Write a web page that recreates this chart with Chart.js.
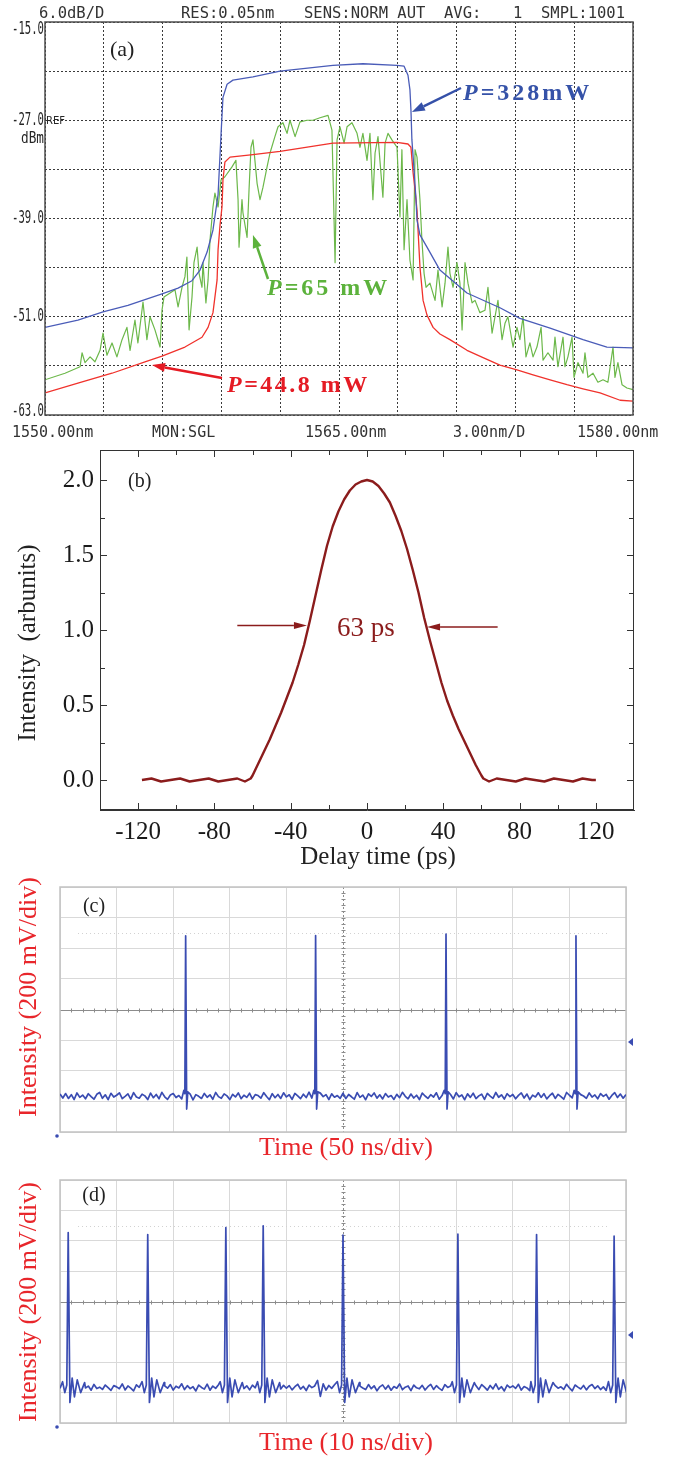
<!DOCTYPE html>
<html>
<head>
<meta charset="utf-8">
<script src="https://cdn.jsdelivr.net/npm/chart.js@4.4.1/dist/chart.umd.min.js"></script>
<style>
html,body{margin:0;padding:0;background:#fff;}
body{position:relative;width:674px;height:1457px;overflow:hidden;}
canvas{position:absolute;left:0;}
</style>
</head>
<body>
<canvas id="cA" width="674" height="445" style="top:0px"></canvas>
<canvas id="cB" width="674" height="425" style="top:445px"></canvas>
<canvas id="cC" width="674" height="300" style="top:870px"></canvas>
<canvas id="cD" width="674" height="287" style="top:1170px"></canvas>
<script>
// ================= DATA =================
// (a) optical spectra (wavelength nm, power dBm)
const wlBlue = [1550.00,1551.68,1552.96,1554.23,1555.97,1556.79,1557.50,1557.91,1558.27,1558.57,1558.83,1558.98,1559.08,1559.29,1559.59,1560.61,1561.99,1564.69,1566.22,1567.96,1568.32,1568.52,1568.62,1568.67,1568.72,1568.83,1568.93,1568.98,1569.13,1569.49,1570.15,1571.53,1573.21,1574.23,1575.77,1577.45,1578.67,1580.00];
const pBlue = [-52.3,-51.4,-50.4,-49.6,-48.2,-47.5,-46.6,-45.3,-43.1,-40.4,-36.1,-28.8,-24.2,-22.6,-22.1,-21.7,-21.0,-20.3,-20.1,-20.3,-20.4,-21.5,-23.3,-25.7,-29.4,-33.1,-36.7,-39.2,-41.0,-42.5,-45.3,-48.1,-49.9,-51.2,-52.4,-53.8,-54.7,-54.8];

const wlRed = [1550.00,1551.68,1553.42,1555.10,1555.97,1557.14,1558.01,1558.32,1558.57,1558.78,1558.83,1558.93,1559.03,1559.08,1559.18,1559.44,1560.61,1561.99,1564.69,1567.96,1568.52,1568.67,1568.78,1568.88,1568.98,1569.13,1569.29,1569.49,1569.80,1570.15,1570.66,1571.53,1572.35,1573.21,1574.08,1574.90,1575.77,1576.63,1577.45,1578.32,1579.34,1580.00];
const pRed = [-60.3,-59.1,-57.9,-56.5,-55.8,-54.7,-53.5,-52.3,-50.5,-46.5,-42.8,-39.8,-37.6,-34.3,-32.1,-31.5,-31.2,-30.8,-29.8,-29.7,-29.9,-30.3,-33.4,-35.5,-38.0,-44.9,-49.0,-50.8,-52.3,-53.1,-53.8,-55.1,-56.0,-56.9,-57.5,-58.1,-58.7,-59.3,-59.8,-60.3,-61.2,-61.3];

const wlGreen = [
1550.00,1551.02,1551.79,1551.89,1552.04,1552.30,1552.55,1552.81,1552.96,1553.16,
1553.42,1553.67,1553.93,1554.18,1554.34,1554.59,1554.74,1555.00,1555.20,1555.36,
1555.61,1555.87,1555.97,1556.07,1556.38,1556.63,1556.79,1556.99,1557.14,1557.24,
1557.35,1557.50,1557.60,1557.76,1557.86,1558.01,1558.06,1558.21,1558.32,1558.42,
1558.57,1558.67,1558.83,1558.98,1559.18,1559.54,1559.74,1559.85,1559.90,1560.05,
1560.10,1560.31,1560.41,1560.51,1560.61,1560.71,1560.82,1560.97,1561.12,1561.33,
1561.48,1561.73,1561.89,1562.14,1562.35,1562.50,1562.76,1563.01,1563.37,1563.67,
1564.03,1564.44,1564.64,1564.80,1564.90,1565.05,1565.26,1565.41,1565.66,1565.92,
1566.07,1566.22,1566.43,1566.58,1566.73,1566.84,1566.99,1567.24,1567.35,1567.50,
1567.70,1567.96,1568.11,1568.21,1568.32,1568.47,1568.62,1568.78,1568.88,1568.98,
1569.13,1569.23,1569.34,1569.44,1569.64,1569.90,1570.05,1570.26,1570.41,1570.56,
1570.66,1570.82,1571.02,1571.17,1571.28,1571.43,1571.58,1571.79,1571.94,1572.19,
1572.45,1572.60,1572.81,1572.96,1573.11,1573.32,1573.47,1573.62,1573.88,1574.08,
1574.23,1574.39,1574.54,1574.74,1574.90,1575.10,1575.31,1575.41,1575.66,1575.92,
1576.02,1576.17,1576.43,1576.53,1576.68,1576.89,1576.99,1577.19,1577.45,1577.55,
1577.70,1577.96,1578.21,1578.47,1578.72,1578.98,1579.08,1579.23,1579.44,1579.69,
1580.00];
const pGreen = [
-58.7,-57.9,-57.1,-55.4,-56.6,-55.9,-56.5,-55.1,-53.0,-55.7,
-54.2,-55.9,-53.8,-52.3,-55.1,-51.4,-54.2,-49.2,-53.8,-51.0,
-52.6,-54.7,-50.2,-48.6,-48.1,-47.7,-49.8,-47.4,-46.1,-43.7,
-52.6,-48.6,-44.4,-42.5,-45.7,-47.4,-44.4,-49.3,-46.5,-41.6,
-37.6,-35.9,-37.6,-34.3,-33.9,-32.7,-31.9,-36.7,-42.5,-36.7,
-38.3,-41.3,-35.5,-30.3,-29.4,-31.9,-34.7,-36.7,-35.2,-32.7,
-31.0,-29.0,-27.8,-27.3,-28.6,-27.0,-29.0,-27.2,-27.0,-27.0,
-26.7,-26.4,-28.2,-44.4,-29.4,-27.8,-29.8,-27.8,-27.3,-28.6,
-30.3,-28.6,-31.9,-28.6,-36.7,-31.0,-29.0,-36.4,-29.8,-28.6,
-29.4,-30.3,-38.8,-30.6,-42.8,-36.7,-44.1,-46.5,-30.6,-31.5,
-36.7,-41.6,-45.7,-47.4,-46.9,-49.0,-45.3,-49.8,-46.9,-42.5,
-45.7,-47.4,-44.4,-46.9,-52.6,-44.4,-46.9,-49.3,-49.0,-50.5,
-50.2,-47.4,-53.0,-51.0,-49.0,-53.8,-51.8,-51.0,-54.7,-52.3,
-53.8,-51.0,-55.9,-54.2,-55.9,-54.7,-52.3,-56.3,-55.4,-56.3,
-53.5,-57.1,-53.5,-57.1,-55.9,-53.5,-58.4,-56.6,-57.9,-55.4,
-58.4,-57.9,-59.0,-58.7,-59.0,-54.7,-58.4,-56.6,-59.3,-59.7,
-59.9];
const yLabelsA = [-15,-27,-39,-51,-63];
const headerA = ['6.0dB/D','RES:0.05nm','SENS:NORM AUT','AVG:','1','SMPL:1001'];
const footerA = ['1550.00nm','MON:SGL','1565.00nm','3.00nm/D','1580.00nm'];

// (b) autocorrelation trace
const delayB = [-118,-113,-108,-103,-98,-93,-88,-83,-78,-73,-68,-64,-61,-60,-57,-54,-51,-48,-45,-42,-39,-36,-33,-30,-27,-24,-21,-18,-15,-12,-9,-6,-3,0,3,6,9,12,15,18,21,24,27,30,33,36,39,42,45,48,51,54,57,60,61,64,68,73,78,83,88,93,98,103,108,113,118,120];
const intensityB = [0.00,0.01,-0.01,0.00,0.01,-0.01,0.00,0.01,-0.01,0.00,0.01,-0.01,0.01,0.03,0.11,0.19,0.27,0.36,0.45,0.55,0.65,0.77,0.90,1.06,1.23,1.40,1.56,1.69,1.79,1.87,1.93,1.97,1.99,2.00,1.99,1.96,1.91,1.85,1.76,1.66,1.54,1.40,1.25,1.08,0.93,0.79,0.65,0.53,0.43,0.34,0.26,0.18,0.10,0.03,0.01,-0.01,0.01,0.00,-0.01,0.01,0.00,-0.01,0.01,0.00,-0.01,0.01,0.00,0.00];
const xTicksB = [-120,-80,-40,0,40,80,120];
const yTicksB = [0,0.5,1.0,1.5,2.0];

// (c) oscilloscope, 50 ns/div: baseline samples every 2.5 ns (mV), pulses
const sampleStepC = 2.5;
const baseC = [
248,222,251,219,244,212,255,226,241,217,
250,231,214,246,258,220,243,211,253,228,
240,256,218,233,249,215,257,229,221,247,
236,212,254,224,245,217,259,230,213,242,
251,225,238,216,256,222,247,210,244,233,
219,252,227,243,214,258,231,220,249,236,
212,246,229,255,218,240,226,253,215,244,
238,221,257,232,211,250,224,245,219,256,
229,243,213,252,236,218,247,225,260,222,
241,216,254,231,244,212,249,227,238,220,
253,218,245,230,214,257,226,241,211,249,
232,255,221,243,216,251,228,238,213,246,
224,259,233,217,248,222,240,212,254,235,
219,244,228,256,214,238,251,223,245,216,
257,230,242,211,249,226,253,218,236,247,
213,252,234,220,258,227,243,215,250,231,
245,217,239,255,222,248,212,241,229,256,
226,250,216,237,253,219,246,231,214,258,
240,223,249,212,244,235,220,255,228,242,
217,251,233,246,214,239,257,225,248,221,
244];
const pulseTimeC = [111.0,225.8,341.0,455.8];
const pulsePeakC = [1281,1283,1292,1281];
const pulseShapeC = {dt:[-1.6,-0.7,0,0.9,1.9], v:[272,250,null,150,262]};

// (d) oscilloscope, 10 ns/div: baseline samples every 0.5 ns (mV), pulses
const sampleStepD = 0.5;
const baseD = [
228,247,219,241,252,224,238,213,249,231,
243,216,254,227,236,221,250,233,215,246,
238,226,257,218,244,230,212,251,235,222,
248,219,240,255,225,237,214,245,229,253,
217,242,231,258,220,246,226,239,211,250,
234,223,256,216,243,228,252,219,241,230,
213,247,236,221,254,227,245,218,249,232,
240,215,251,229,244,212,237,256,224,248,
229,246,218,239,255,223,241,214,250,233,
244,280,175,258,217,247,228,252,222,241,
235,218,249,227,256,214,243,231,220,253,
226,245,212,238,251,223,247,216,240,229,
257,219,236,244,213,250,232,225,248,217,
239,254,221,246,228,215,252,234,243,224,
212,249,230,256,218,241,227,245,220,253,
236,216,247,225,258,222,239,211,250,233,
244,228,255,217,240,231,213,248,226,252,
219,243,234,257,214,246,229,238,221,255,
231,212,250,236,224,247,218,242,253,227,
245,220,238,215,251,233,256,226,241,217,
248];
const pulseTimeD = [1.45,15.5,29.3,35.9,50.0,70.3,84.2,97.9];
const pulsePeakD = [1254,1241,1287,1298,1237,1243,1241,1230];
const pulseShapeD = {dt:[-1.0,-0.6,-0.25,0,0.3,0.7,1.1,1.6,2.2,2.9], v:[272,200,250,null,135,295,172,284,200,266]};

// ================= HELPERS =================
const zip = (xs, ys) => xs.map((x,i)=>({x:x, y:ys[i]}));
function buildTrace(step, base, pT, pP, shape){
  const lo = Math.min(...shape.dt) - 0.1, hi = Math.max(...shape.dt) + 0.1;
  const pts = [];
  base.forEach((v,i)=>{ const t=i*step; if(!pT.some(p=>t>p+lo && t<p+hi)) pts.push({x:t,y:v}); });
  pT.forEach((p,k)=>shape.dt.forEach((d,j)=>pts.push({x:p+d, y:shape.v[j]===null?pP[k]:shape.v[j]})));
  return pts.sort((a,b)=>a.x-b.x);
}
function arrow(ctx,x1,y1,x2,y2,color,w,hl,hw){
  const ang=Math.atan2(y2-y1,x2-x1);
  const bx=x2-hl*Math.cos(ang), by=y2-hl*Math.sin(ang);
  ctx.strokeStyle=color; ctx.fillStyle=color; ctx.lineWidth=w;
  ctx.beginPath(); ctx.moveTo(x1,y1); ctx.lineTo(bx,by); ctx.stroke();
  ctx.beginPath(); ctx.moveTo(x2,y2);
  ctx.lineTo(bx+hw/2*Math.sin(ang), by-hw/2*Math.cos(ang));
  ctx.lineTo(bx-hw/2*Math.sin(ang), by+hw/2*Math.cos(ang));
  ctx.closePath(); ctx.fill();
}
function pLabel(ctx,x,yb,rest,color,ls){
  ctx.fillStyle=color; ctx.textAlign='left'; ctx.textBaseline='alphabetic';
  ctx.letterSpacing=ls+'px';
  ctx.font='italic bold 24px "Liberation Serif"';
  ctx.fillText('P',x,yb);
  const w=ctx.measureText('P').width;
  ctx.font='bold 24px "Liberation Serif"';
  ctx.fillText(rest,x+w,yb);
  ctx.letterSpacing='0px';
}
const noPad = (s)=>{ s.paddingTop=0; s.paddingBottom=0; s.paddingLeft=0; s.paddingRight=0; };
const common = {responsive:false, animation:false, events:[]};

// ================= PANEL (a) =================
const osaPlugin = {
  id:'osa',
  afterDraw(chart){
    const {ctx, chartArea:a, scales:{x,y}} = chart;
    ctx.save();
    ctx.setLineDash([]);
    ctx.strokeStyle='#4d4d4d'; ctx.lineWidth=1.5;
    ctx.strokeRect(a.left, a.top, a.right-a.left, a.bottom-a.top);
    ctx.fillStyle='#333';
    ctx.textAlign='left'; ctx.textBaseline='alphabetic';
    ctx.font='15.5px "DejaVu Sans Mono"';
    const hx=[39,181,304,444,513,541];
    headerA.forEach((t,i)=>ctx.fillText(t,hx[i],18));
    ctx.font='15px "DejaVu Sans Mono"';
    const fx=[12,152,305,453,577];
    footerA.forEach((t,i)=>ctx.fillText(t,fx[i],437));
    ctx.fillStyle='#262626';
    ctx.font='18px "DejaVu Sans Mono"'; ctx.textAlign='right'; ctx.textBaseline='middle';
    yLabelsA.forEach(v=>{
      let py=y.getPixelForValue(v); py=Math.min(Math.max(py,a.top+7),a.bottom-4);
      ctx.save(); ctx.translate(a.left-1,py); ctx.scale(0.59,1); ctx.fillText(v.toFixed(1),0,0); ctx.restore();
    });
    ctx.textAlign='left'; ctx.textBaseline='alphabetic';
    ctx.font='10px "DejaVu Sans"'; ctx.fillText('REF', a.left+1, y.getPixelForValue(-27)+4);
    ctx.font='15px "DejaVu Sans Mono"'; ctx.textAlign='right';
    ctx.save(); ctx.translate(a.left-1, y.getPixelForValue(-27)+23); ctx.scale(0.85,1); ctx.fillText('dBm',0,0); ctx.restore();
    ctx.textAlign='left';
    ctx.font='22px "Liberation Serif"'; ctx.fillStyle='#222';
    ctx.fillText('(a)',110,56);
    // annotations
    arrow(ctx,461,88,x.getPixelForValue(1568.72),y.getPixelForValue(-26.0),'#3550a8',2.5,13,9);
    pLabel(ctx,463,100,'=328mW','#3552a8',3);
    arrow(ctx,268,279,x.getPixelForValue(1560.61),y.getPixelForValue(-41.0),'#5cb23c',2.5,13,9);
    pLabel(ctx,267,295,'=65 mW','#5cb23c',3);
    arrow(ctx,222,378,x.getPixelForValue(1555.46),y.getPixelForValue(-56.9),'#e51b24',2.5,13,9);
    pLabel(ctx,227,392,'=44.8 mW','#e51b24',2.5);
    ctx.restore();
  }
};
new Chart(document.getElementById('cA'), {
  type:'line',
  data:{datasets:[
    {data:zip(wlBlue,pBlue), borderColor:'#4a5cb8', borderWidth:1.3, pointRadius:0, tension:0, borderJoinStyle:'round'},
    {data:zip(wlRed,pRed), borderColor:'#f0322c', borderWidth:1.3, pointRadius:0, tension:0, borderJoinStyle:'round'},
    {data:zip(wlGreen,pGreen), borderColor:'#6cb84a', borderWidth:1.2, pointRadius:0, tension:0, borderJoinStyle:'round'}
  ]},
  options:Object.assign({}, common, {
    layout:{padding:{top:22,right:41,left:0,bottom:0}},
    plugins:{legend:{display:false}, tooltip:{enabled:false}},
    scales:{
      x:{type:'linear', min:1550, max:1580, ticks:{display:false, stepSize:3},
         grid:{color:'#3a3a3a', lineWidth:1, drawTicks:false}, border:{display:false, dash:[2,2]},
         afterFit:(s)=>{s.height=30; noPad(s);}},
      y:{type:'linear', min:-63, max:-15, ticks:{display:false, stepSize:6},
         grid:{color:'#3a3a3a', lineWidth:1, drawTicks:false}, border:{display:false, dash:[2,2]},
         afterFit:(s)=>{s.width=45; noPad(s);}}
    }
  }),
  plugins:[osaPlugin]
});

// ================= PANEL (b) =================
const panelBPlugin = {
  id:'panelB',
  afterDraw(chart){
    const {ctx, chartArea:a, scales:{x,y}} = chart;
    ctx.save();
    ctx.strokeStyle='#333'; ctx.lineWidth=1;
    ctx.strokeRect(Math.round(a.left)+0.5, Math.round(a.top)+0.5, Math.round(a.right-a.left)-1, Math.round(a.bottom-a.top)-1);
    const tick=(v,len,isX)=>{
      if(isX){ const px=Math.round(x.getPixelForValue(v))+0.5;
        ctx.beginPath(); ctx.moveTo(px,a.bottom); ctx.lineTo(px,a.bottom-len); ctx.moveTo(px,a.top); ctx.lineTo(px,a.top+len); ctx.stroke();
      } else { const py=Math.round(y.getPixelForValue(v))+0.5;
        ctx.beginPath(); ctx.moveTo(a.left,py); ctx.lineTo(a.left+len,py); ctx.moveTo(a.right,py); ctx.lineTo(a.right-len,py); ctx.stroke();
      }
    };
    xTicksB.forEach((v,i)=>{ tick(v,7,true); if(i<xTicksB.length-1) tick((v+xTicksB[i+1])/2,5,true); });
    yTicksB.forEach((v,i)=>{ tick(v,7,false); if(i<yTicksB.length-1) tick((v+yTicksB[i+1])/2,5,false); });
    ctx.fillStyle='#222'; ctx.textAlign='left'; ctx.textBaseline='alphabetic';
    ctx.font='20px "Liberation Serif"'; ctx.fillText('(b)',128,42);
    ctx.font='25px "Liberation Serif"'; ctx.textAlign='center'; ctx.textBaseline='middle';
    ctx.fillText('Delay time (ps)',378,412);
    ctx.save(); ctx.translate(28,198); ctx.rotate(-Math.PI/2); ctx.fillText('Intensity  (arbunits)',0,0); ctx.restore();
    // FWHM annotation
    const dr='#8b1c1c';
    ctx.fillStyle=dr; ctx.font='27px "Liberation Serif"'; ctx.textAlign='center'; ctx.textBaseline='alphabetic';
    ctx.fillText('63 ps',366,191);
    arrow(ctx,x.getPixelForValue(-68),y.getPixelForValue(1.03),x.getPixelForValue(-31.5),y.getPixelForValue(1.03),dr,1.3,13,7);
    arrow(ctx,x.getPixelForValue(68.5),y.getPixelForValue(1.02),x.getPixelForValue(31.5),y.getPixelForValue(1.02),dr,1.3,13,7);
    ctx.restore();
  }
};
new Chart(document.getElementById('cB'), {
  type:'line',
  data:{datasets:[{data:zip(delayB,intensityB), borderColor:'#8b1c1c', borderWidth:2.4, pointRadius:0, tension:0, borderJoinStyle:'round'}]},
  options:Object.assign({}, common, {
    layout:{padding:{top:5,right:40,left:0,bottom:0}},
    plugins:{legend:{display:false}, tooltip:{enabled:false}},
    scales:{
      x:{type:'linear', min:-140, max:140,
         afterBuildTicks:(s)=>{s.ticks=xTicksB.map(v=>({value:v}));},
         afterFit:(s)=>{s.height=60; noPad(s);},
         ticks:{callback:(v)=>String(v), font:{family:'Liberation Serif', size:25}, color:'#1a1a1a', padding:7, maxRotation:0, autoSkip:false},
         grid:{drawOnChartArea:false, drawTicks:false},
         border:{display:true, color:'#333', width:1}},
      y:{type:'linear', min:-0.2, max:2.2,
         afterBuildTicks:(s)=>{s.ticks=yTicksB.map(v=>({value:v}));},
         afterFit:(s)=>{s.width=100; noPad(s);},
         ticks:{callback:(v)=>Number(v).toFixed(1), font:{family:'Liberation Serif', size:25}, color:'#1a1a1a', padding:6, autoSkip:false},
         grid:{drawOnChartArea:false, drawTicks:false},
         border:{display:true, color:'#333', width:1}}
    }
  }),
  plugins:[panelBPlugin]
});

// ================= PANELS (c), (d) =================
const scopePlugin = {
  id:'scope',
  beforeDatasetsDraw(chart, args, o){
    const {ctx, chartArea:a, scales:{x,y}} = chart;
    ctx.save();
    ctx.strokeStyle='#d2d2d2'; ctx.lineWidth=1; ctx.setLineDash([1,3]);
    const yl=Math.round(y.getPixelForValue(o.level))+0.5;
    ctx.beginPath(); ctx.moveTo(a.left+18,yl); ctx.lineTo(a.right-18,yl); ctx.stroke();
    const cx=Math.round(x.getPixelForValue(o.xc))+0.5, cy=Math.round(y.getPixelForValue(800))+0.5;
    ctx.setLineDash([]); ctx.strokeStyle='#8c8c8c';
    ctx.beginPath(); ctx.moveTo(a.left,cy); ctx.lineTo(a.right,cy); ctx.stroke();
    ctx.setLineDash([2,2]);
    ctx.beginPath(); ctx.moveTo(cx,a.top); ctx.lineTo(cx,a.bottom); ctx.stroke();
    ctx.setLineDash([]);
    ctx.beginPath();
    for(let i=1;i<50;i++){ const px=Math.round(x.getPixelForValue(x.min+(x.max-x.min)*i/50))+0.5; ctx.moveTo(px,cy-2); ctx.lineTo(px,cy+2); }
    for(let i=1;i<40;i++){ const py=Math.round(y.getPixelForValue(1600*i/40))+0.5; ctx.moveTo(cx-2,py); ctx.lineTo(cx+2,py); }
    ctx.stroke();
    ctx.strokeStyle='#c2c2c2'; ctx.lineWidth=1.5;
    ctx.strokeRect(a.left, a.top, a.right-a.left, a.bottom-a.top);
    ctx.restore();
  },
  afterDraw(chart, args, o){
    const {ctx, chartArea:a} = chart;
    ctx.save();
    ctx.fillStyle='#222'; ctx.font='20px "Liberation Serif"'; ctx.textAlign='center'; ctx.textBaseline='middle';
    ctx.fillText(o.label, 94, o.labelY);
    ctx.fillStyle='#e8262b'; ctx.font='26px "Liberation Serif"';
    ctx.fillText(o.title, 346, o.titleY);
    ctx.save(); ctx.translate(29, o.ytitleY); ctx.rotate(-Math.PI/2); ctx.fillText('Intensity (200 mV/div)',0,0); ctx.restore();
    ctx.fillStyle='#3a4cb2';
    ctx.beginPath(); ctx.moveTo(a.right+2,o.triY); ctx.lineTo(a.right+7,o.triY-4); ctx.lineTo(a.right+7,o.triY+4); ctx.closePath(); ctx.fill();
    ctx.beginPath(); ctx.arc(a.left-3, a.bottom+4, 1.8, 0, Math.PI*2); ctx.fill();
    ctx.restore();
  }
};
function scopeChart(id, xMax, xStep, trace, o){
  return new Chart(document.getElementById(id), {
    type:'line',
    data:{datasets:[{data:trace, borderColor:'#3a4cb2', borderWidth:1.7, pointRadius:0, tension:0, borderJoinStyle:'round'}]},
    options:Object.assign({}, common, {
      layout:{padding:{top:o.top,right:48,left:0,bottom:0}},
      plugins:{legend:{display:false}, tooltip:{enabled:false}, scope:o},
      scales:{
        x:{type:'linear', min:0, max:xMax, ticks:{display:false, stepSize:xStep},
           grid:{color:(c)=>(c.tick && c.tick.value===xMax/2)?'rgba(0,0,0,0)':'#d9d9d9', lineWidth:1, drawTicks:false},
           border:{display:false}, afterFit:(s)=>{s.height=o.xh; noPad(s);}},
        y:{type:'linear', min:0, max:1600, ticks:{display:false, stepSize:200},
           grid:{color:(c)=>(c.tick && c.tick.value===800)?'rgba(0,0,0,0)':'#d9d9d9', lineWidth:1, drawTicks:false},
           border:{display:false}, afterFit:(s)=>{s.width=60; noPad(s);}}
      }
    }),
    plugins:[scopePlugin]
  });
}
scopeChart('cC', 500, 50, buildTrace(sampleStepC, baseC, pulseTimeC, pulsePeakC, pulseShapeC),
  {top:17, xh:38, xc:250, level:1300, label:'(c)', labelY:37, title:'Time (50 ns/div)', titleY:278, ytitleY:127, triY:172});
scopeChart('cD', 100, 10, buildTrace(sampleStepD, baseD, pulseTimeD, pulsePeakD, pulseShapeD),
  {top:10, xh:34, xc:50, level:1300, label:'(d)', labelY:26, title:'Time (10 ns/div)', titleY:273, ytitleY:132, triY:165});
</script>
</body>
</html>
